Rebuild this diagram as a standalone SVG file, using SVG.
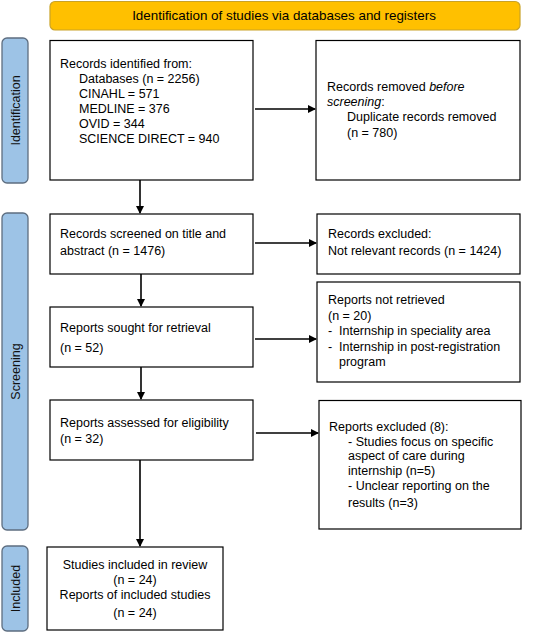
<svg xmlns="http://www.w3.org/2000/svg" width="551" height="633" viewBox="0 0 551 633">
<defs>
<style>
text{font-family:"Liberation Sans",Arial,sans-serif;font-size:12.5px;fill:#000}
.ban{font-size:13.4px}
.box{fill:#fff;stroke:#000;stroke-width:1.2}
.side{fill:#9DC3E6;stroke:#5E6E80;stroke-width:1.3}
.sidet{font-size:12.5px;fill:#111}
.con{stroke:#000;stroke-width:1.6;fill:none;marker-end:url(#ah)}
</style>
<marker id="ah" markerWidth="8" markerHeight="8" refX="7" refY="4" orient="auto" markerUnits="userSpaceOnUse">
<path d="M0,0 L8,4 L0,8 Z" fill="#000"/>
</marker>
</defs>
<rect width="551" height="633" fill="#fff"/>
<g id="banner">
<rect x="50" y="1.5" width="470" height="28.5" rx="5" fill="#FFC000" stroke="#C9A227" stroke-width="1.2"/>
<text class="ban" x="284" y="19.5" text-anchor="middle">Identification of studies via databases and registers</text>
</g>
<g id="lbl-identification">
<rect class="side" x="2" y="38" width="26" height="145" rx="5"/>
<text class="sidet" transform="translate(19.5,110.5) rotate(-90)" text-anchor="middle">Identification</text>
</g>
<g id="lbl-screening">
<rect class="side" x="2" y="213" width="26" height="317" rx="5"/>
<text class="sidet" transform="translate(19.5,371.5) rotate(-90)" text-anchor="middle">Screening</text>
</g>
<g id="lbl-included">
<rect class="side" x="2" y="546" width="26" height="85" rx="5"/>
<text class="sidet" transform="translate(19.5,588.5) rotate(-90)" text-anchor="middle">Included</text>
</g>
<g id="n-identified">
<rect class="box" x="50" y="40.5" width="203" height="139.5"/>
<text x="60" y="68">Records identified from:</text>
<text x="79" y="83">Databases (n = 2256)</text>
<text x="79" y="98">CINAHL = 571</text>
<text x="79" y="113">MEDLINE = 376</text>
<text x="79" y="128">OVID  = 344</text>
<text x="79" y="143">SCIENCE DIRECT = 940</text>
</g>
<g id="n-removed">
<rect class="box" x="316" y="40.5" width="204" height="139.5"/>
<text x="327" y="91">Records removed <tspan font-style="italic">before</tspan></text>
<text x="327" y="106"><tspan font-style="italic">screening</tspan>:</text>
<text x="347" y="121">Duplicate records removed</text>
<text x="347" y="137">(n = 780)</text>
</g>
<g id="n-screened">
<rect class="box" x="50" y="214" width="203" height="60"/>
<text x="60" y="238">Records screened on title and</text>
<text x="60" y="255">abstract (n = 1476)</text>
</g>
<g id="n-excluded">
<rect class="box" x="317" y="214" width="203" height="60"/>
<text x="328" y="238">Records excluded:</text>
<text x="328" y="255">Not relevant records (n = 1424)</text>
</g>
<g id="n-sought">
<rect class="box" x="50" y="307" width="203" height="60"/>
<text x="60" y="332">Reports sought for retrieval</text>
<text x="60" y="352">(n = 52)</text>
</g>
<g id="n-notretrieved">
<rect class="box" x="317" y="282" width="203" height="100"/>
<text x="328" y="304">Reports not retrieved</text>
<text x="328" y="320">(n = 20)</text>
<text x="328" y="335">-</text>
<text x="339" y="335">Internship in speciality area</text>
<text x="328" y="351">-</text>
<text x="339" y="351">Internship in post-registration</text>
<text x="339" y="366">program</text>
</g>
<g id="n-assessed">
<rect class="box" x="50" y="400" width="203" height="60"/>
<text x="60" y="427">Reports assessed for eligibility</text>
<text x="60" y="443">(n = 32)</text>
</g>
<g id="n-reportsexcluded">
<rect class="box" x="319" y="400.5" width="202" height="128.5"/>
<text x="329" y="431">Reports excluded (8):</text>
<text x="348" y="446">- Studies focus on specific</text>
<text x="348" y="460">aspect of care during</text>
<text x="348" y="475">internship (n=5)</text>
<text x="348" y="490">- Unclear reporting on the</text>
<text x="348" y="507">results (n=3)</text>
</g>
<g id="n-included">
<rect class="box" x="47" y="547" width="176" height="83"/>
<text x="135" y="569" text-anchor="middle">Studies included in review</text>
<text x="135" y="584" text-anchor="middle">(n = 24)</text>
<text x="135" y="599" text-anchor="middle">Reports of included studies</text>
<text x="135" y="617" text-anchor="middle">(n = 24)</text>
</g>
<g id="connectors">
<line class="con" x1="255" y1="109" x2="315" y2="109"/>
<line class="con" x1="140" y1="180" x2="140" y2="213"/>
<line class="con" x1="255" y1="243" x2="316" y2="243"/>
<line class="con" x1="141" y1="274" x2="141" y2="306"/>
<line class="con" x1="255" y1="339" x2="316" y2="339"/>
<line class="con" x1="141" y1="367" x2="141" y2="399"/>
<line class="con" x1="256" y1="433" x2="318" y2="433"/>
<line class="con" x1="140" y1="460" x2="140" y2="546"/>
</g>
</svg>
